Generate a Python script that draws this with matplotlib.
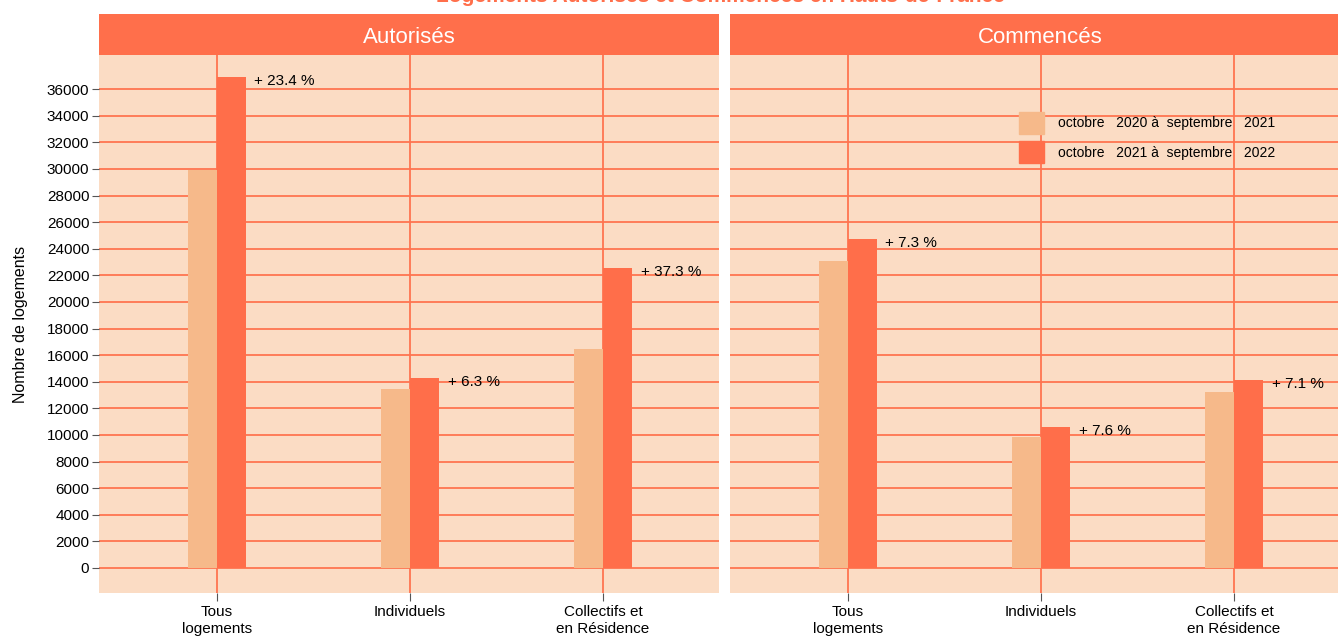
import numpy as np, matplotlib
matplotlib.use("Agg"); import matplotlib.pyplot as plt
from matplotlib.patches import Patch
plt.rcParams.update({"font.family":["Liberation Sans","DejaVu Sans"],"figure.dpi":100})

BG="#fbdcc4"; GRID="#ff7450"; LIGHT="#f6b98a"; DARK="#ff6e4a"; STRIP="#ff6f4b"
panels=["Autorisés","Commencés"]
categories=["Tous\nlogements","Individuels","Collectifs et\nen Résidence"]
periods=["octobre   2020 à  septembre   2021","octobre   2021 à  septembre   2022"]
prev={"Autorisés":[29900,13450,16450],"Commencés":[23050,9850,13200]}
curr={"Autorisés":[36900,14300,22590],"Commencés":[24730,10600,14140]}
evol={"Autorisés":["+ 23.4 %","+ 6.3 %","+ 37.3 %"],"Commencés":["+ 7.3 %","+ 7.6 %","+ 7.1 %"]}
yticks=list(range(0,36001,2000))

W,H=1338,637
fig=plt.figure(figsize=(W/100,H/100))
x=np.arange(1,len(categories)+1); bw=0.15
lefts=[99,730]; pw=620; top=55; bot=593
for i,p in enumerate(panels):
    ax=fig.add_axes([lefts[i]/W,(H-bot)/H,pw/W,(bot-top)/H])
    ax.set_facecolor(BG)
    for s in ax.spines.values(): s.set_visible(False)
    ax.set_xlim(0.39,3.6); ax.set_ylim(-1880,38570)
    ax.set_yticks(yticks); ax.set_xticks(x)
    ax.grid(True,color=GRID,lw=1.3); ax.set_axisbelow(True)
    ax.bar(x-bw/2,prev[p],bw,color=LIGHT,zorder=2)
    ax.bar(x+bw/2,curr[p],bw,color=DARK,zorder=2)
    for xi,v,t in zip(x,curr[p],evol[p]):
        ax.text(xi+bw+0.045,v-300,t,fontsize=11,va="center",ha="left",zorder=3,clip_on=False)
    ax.set_xticklabels(categories,fontsize=11,linespacing=1.2)
    ax.tick_params(axis="x",length=6,color="#555555",pad=3)
    ax.tick_params(axis="y",length=5,color="#555555",labelsize=11,pad=2)
    if i==0:
        ax.set_ylabel("Nombre de logements",fontsize=11.5)
        ax.yaxis.set_label_coords(-0.115,0.5)
    else:
        ax.tick_params(axis="y",length=0,labelleft=False)
        ax.legend(handles=[Patch(color=LIGHT,label=periods[0]),Patch(color=DARK,label=periods[1])],
                  loc="upper left",bbox_to_anchor=(0.457,0.905),frameon=False,fontsize=10,
                  handlelength=1.8,handleheight=2.1,handletextpad=1.0,labelspacing=0.5,borderaxespad=0)
    sx=fig.add_axes([lefts[i]/W,(H-top)/H,pw/W,(top-14)/H])
    sx.set_facecolor(STRIP); sx.set_xticks([]); sx.set_yticks([])
    for s in sx.spines.values(): s.set_visible(False)
    sx.text(0.5,0.42,p,color="white",fontsize=16,ha="center",va="center",transform=sx.transAxes)
# the reference shows this title mostly cut off at the top edge
fig.text(720/W,1+3/H,"Logements Autorisés et Commencés en Hauts-de-France",color=STRIP,
         fontsize=15,fontweight="bold",ha="center",va="center")
fig.savefig("out.png",dpi=100)
